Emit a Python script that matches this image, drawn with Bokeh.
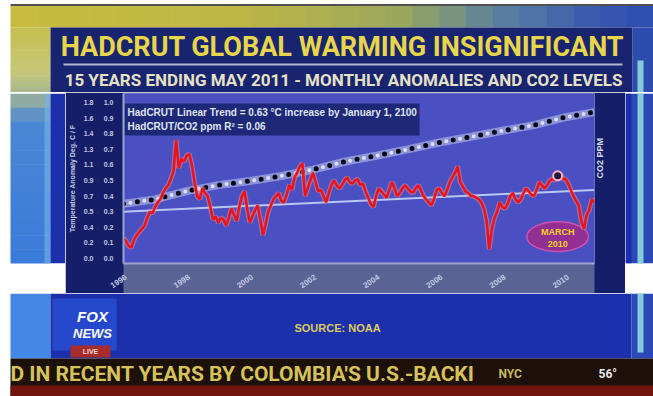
import numpy as np
from bokeh.plotting import figure
from bokeh.layouts import column, row
from bokeh.models import Range1d, LinearAxis, FixedTicker, BoxAnnotation, Label
from bokeh.core.properties import value
from bokeh.embed import file_html
from bokeh.resources import INLINE

# ---------------- data ----------------
# HadCRUT monthly anomalies, June 1996 .. May 2011 (deg C)
temps_1996 = [0.13, 0.11, 0.08, 0.07, 0.12, 0.15, 0.17]
temps_1997 = [0.19, 0.21, 0.26, 0.30, 0.29, 0.33, 0.36, 0.38, 0.42, 0.45, 0.47, 0.51]
temps_1998 = [0.56, 0.76, 0.58, 0.64, 0.62, 0.66, 0.67, 0.60, 0.49, 0.40, 0.38, 0.45]
temps_1999 = [0.42, 0.40, 0.33, 0.25, 0.27, 0.23, 0.26, 0.25, 0.21, 0.26, 0.32, 0.28]
temps_2000 = [0.24, 0.33, 0.40, 0.43, 0.32, 0.23, 0.27, 0.31, 0.34, 0.25, 0.15, 0.22]
temps_2001 = [0.30, 0.34, 0.38, 0.40, 0.42, 0.37, 0.36, 0.41, 0.47, 0.44, 0.52, 0.55]
temps_2002 = [0.59, 0.61, 0.40, 0.45, 0.50, 0.55, 0.49, 0.43, 0.44, 0.40, 0.36, 0.42]
temps_2003 = [0.47, 0.50, 0.47, 0.45, 0.47, 0.50, 0.52, 0.49, 0.48, 0.50, 0.51, 0.47]
temps_2004 = [0.48, 0.43, 0.39, 0.35, 0.33, 0.40, 0.45, 0.43, 0.41, 0.39, 0.44, 0.49]
temps_2005 = [0.45, 0.40, 0.42, 0.45, 0.47, 0.45, 0.43, 0.42, 0.45, 0.47, 0.44, 0.40]
temps_2006 = [0.38, 0.36, 0.34, 0.38, 0.44, 0.45, 0.42, 0.40, 0.44, 0.49, 0.52, 0.55]
temps_2007 = [0.59, 0.49, 0.46, 0.43, 0.42, 0.40, 0.40, 0.39, 0.38, 0.36, 0.32, 0.24]
temps_2008 = [0.06, 0.19, 0.26, 0.30, 0.36, 0.33, 0.32, 0.35, 0.40, 0.42, 0.38, 0.36]
temps_2009 = [0.38, 0.42, 0.45, 0.43, 0.41, 0.40, 0.44, 0.49, 0.47, 0.45, 0.47, 0.50]
temps_2010 = [0.51, 0.50, 0.53, 0.54, 0.51, 0.51, 0.48, 0.44, 0.40, 0.37, 0.34, 0.24]
temps_2011 = [0.19, 0.28, 0.31, 0.38, 0.36]

# CO2 (ppm), June of each year 1996..2010 and May 2011
co2_years = [1996, 1997, 1998, 1999, 2000, 2001, 2002, 2003, 2004, 2005,
             2006, 2007, 2008, 2009, 2010, 2011]
co2_months = [6, 6, 6, 6, 6, 6, 6, 6, 6, 6, 6, 6, 6, 6, 6, 5]
co2_ppm = [362.4, 363.8, 366.4, 368.3, 369.6, 371.2, 373.2, 375.7, 377.6, 379.6,
           381.8, 383.6, 385.5, 387.3, 389.8, 391.4]

# linear trend end values (deg C) as drawn
trend_values = [0.30, 0.44]

# axis ticks
c_ticks = [0.0, 0.1, 0.2, 0.3, 0.4, 0.5, 0.6, 0.7, 0.8, 0.9, 1.0]
c_labels = ["0.0", "0.1", "0.2", "0.3", "0.4", "0.5", "0.6", "0.7", "0.8", "0.9", "1.0"]
f_ticks = [0.0, 0.18, 0.36, 0.54, 0.72, 0.9, 1.08, 1.26, 1.44, 1.62, 1.8]
f_labels = ["0.0", "0.2", "0.4", "0.5", "0.7", "0.9", "1.1", "1.3", "1.4", "1.6", "1.8"]
year_ticks = [1996, 1998, 2000, 2002, 2004, 2006, 2008, 2010]

temps = (temps_1996 + temps_1997 + temps_1998 + temps_1999 + temps_2000 + temps_2001 +
         temps_2002 + temps_2003 + temps_2004 + temps_2005 + temps_2006 + temps_2007 +
         temps_2008 + temps_2009 + temps_2010 + temps_2011)
dates = [1996 + (5 + i) / 12 for i in range(len(temps))]
co2_dates = [y + (m - 1) / 12 for y, m in zip(co2_years, co2_months)]
trend_dates = [dates[0], dates[-1]]
march_2010 = 165  # index of March 2010 in the monthly series

LBL = "Liberation Sans"
HEAD = "Roboto"


# ---------------- helpers for the TV-frame pieces (page pixel coordinates) -------------
def deco(x0, y0, w, h):
    f = figure(width=w, height=h, x_range=Range1d(x0, x0 + w), y_range=Range1d(y0 + h, y0),
               min_border=0, x_axis_location=None, y_axis_location=None,
               outline_line_color=None, background_fill_color="white",
               border_fill_color="white", toolbar_location=None, output_backend="svg",
               title=None)
    f.grid.visible = False
    return f


def rect(f, l, r, t, b, color, alpha=1.0):
    f.quad(left=[l], right=[r], top=[t], bottom=[b], fill_color=color,
           fill_alpha=alpha, line_color=None)


def txt(f, x, y, s, size, color, font=LBL, align="left", style="bold"):
    f.text(x=[x], y=[y], text=[s], text_font=value(font), text_font_size=f"{size}px",
           text_font_style=style, text_color=color, text_align=align,
           text_baseline="middle")


def lerp_colors(stops, n):
    pos = np.array([s[0] for s in stops], float)
    cols = np.array([[int(s[1][i:i + 2], 16) for i in (1, 3, 5)] for s in stops], float)
    out = []
    for k in range(n):
        t = pos[0] + (pos[-1] - pos[0]) * (k + 0.5) / n
        out.append("#%02x%02x%02x" % tuple(int(np.interp(t, pos, cols[:, j])) for j in range(3)))
    return out


def hgrad(f, x0, x1, t, b, stops, n=24):
    step = (x1 - x0) / n
    for k, c in enumerate(lerp_colors(stops, n)):
        rect(f, x0 + k * step, x0 + (k + 1) * step + 0.6, t, b, c)


def vgrad(f, l, r, y0, y1, stops, n=24):
    step = (y1 - y0) / n
    for k, c in enumerate(lerp_colors(stops, n)):
        rect(f, l, r, y0 + k * step, y0 + (k + 1) * step + 0.6, c)


ROYAL = "#1c30ac"
NAVY_T = "#182470"
NAVY_C = "#151e68"

# ---------------- top piece: frame strip + title ----------------
top = deco(0, 0, 653, 92)
rect(top, 10, 653, 3.5, 5.5, "#505050")
hgrad(top, 10, 653, 5.5, 27, [(10, "#c9bd40"), (250, "#bdb646"), (400, "#9aa85e"),
                              (500, "#5a80a0"), (600, "#3858b0"), (653, "#2c4cb0")])
vgrad(top, 10, 50, 27, 92, [(27, "#c6bf50"), (70, "#c8c878"), (92, "#a8b890")], n=12)
rect(top, 632, 653, 27, 92, "#2c4cb0")
rect(top, 637, 643, 60, 92, "#86ccd8")
rect(top, 50, 632, 27, 92, NAVY_T)
rect(top, 63, 622, 63, 65, "#b4b8cc")
txt(top, 342, 46, "HADCRUT GLOBAL WARMING INSIGNIFICANT", 27, "#e8d64a", font=HEAD,
    align="center")
txt(top, 343, 79, "15 YEARS ENDING MAY 2011 - MONTHLY ANOMALIES AND CO2 LEVELS", 17,
    "#e6e2c6", font=HEAD, align="center")

# ---------------- middle-left piece ----------------
lft = deco(0, 92, 65, 201)
vgrad(lft, 10, 50, 92, 293, [(92, "#a8b890"), (125, "#4a88d4"), (293, "#3b7bda")], n=12)
rect(lft, 44, 50, 92, 293, "#78b4ea", 0.6)
rect(lft, 50, 65, 92, 293, ROYAL)

# ---------------- middle-right piece ----------------
rgt = deco(625, 92, 28, 201)
rect(rgt, 625, 653, 92, 293, "#2a48b8")
rect(rgt, 625, 631, 92, 293, ROYAL)
rect(rgt, 637, 643, 92, 293, "#86ccd8")

# ---------------- bottom piece ----------------
bot = deco(0, 293, 653, 103)
rect(bot, 10, 50, 293, 358, "#4488e6")
rect(bot, 50, 631, 293, 358, ROYAL)
rect(bot, 631, 653, 293, 358, "#2a48b8")
rect(bot, 637, 643, 293, 352, "#86ccd8")
rect(bot, 52, 116, 298, 350, "#2648cc")
rect(bot, 70, 110, 345, 357, "#a82c2c")
txt(bot, 92, 316, "FOX", 15, "#ffffff", style="bold italic", align="center")
txt(bot, 92, 333, "NEWS", 13, "#ffffff", style="bold italic", align="center")
txt(bot, 90, 351, "LIVE", 7, "#f4d8c8", align="center")
txt(bot, 337, 327, "SOURCE: NOAA", 11, "#dccb5c", align="center")
rect(bot, 10, 653, 358, 396, "#1c1008")
rect(bot, 10, 653, 385, 396, "#701410")
txt(bot, 10, 373, "D IN RECENT YEARS BY COLOMBIA'S U.S.-BACKI", 21, "#d6c25a", font=HEAD)
txt(bot, 498, 373, "NYC", 12, "#c8b860", font=HEAD)
txt(bot, 598, 373, "56°", 12, "#e8e8e8", font=HEAD)

# ---------------- chart ----------------
p = figure(width=560, height=201, output_backend="svg", toolbar_location=None, title=None,
           x_range=Range1d(dates[0], dates[-1]), y_range=Range1d(-0.032, 1.058),
           min_border_left=52, min_border_right=31, min_border_top=1,
           min_border_bottom=30, background_fill_color="#4a4fc2",
           border_fill_color=NAVY_C, outline_line_color=None)
p.grid.visible = False
p.extra_y_ranges = {"F": Range1d(-0.032 * 1.8, 1.058 * 1.8),
                    "co2": Range1d(343.5, 397.3)}

# legend text box (chart canvas pixels)
p.add_layout(BoxAnnotation(left=59, right=354, top=11, bottom=43, left_units="canvas",
                           right_units="canvas", top_units="canvas", bottom_units="canvas",
                           fill_color="#1a2470", fill_alpha=0.9, line_color=None,
                           level="underlay"))
for yy, s in [(19.5, "HadCRUT Linear Trend = 0.63 °C increase by January 1, 2100"),
              (34, "HadCRUT/CO2 ppm R² = 0.06")]:
    p.add_layout(Label(x=62, y=yy, x_units="canvas", y_units="canvas", text=s,
                       text_font=LBL, text_font_size="10px", text_font_style="bold",
                       text_color="#dfe3f2", text_baseline="middle"))

# CO2 dotted line (halo + dots)
p.line(co2_dates, co2_ppm, y_range_name="co2", line_width=8, line_color="#dde4f6",
       line_alpha=0.45)
p.line(co2_dates, co2_ppm, y_range_name="co2", line_width=4, line_color="#f0f4ff",
       line_dash="0 14", line_dash_offset=7, line_cap="round", line_alpha=0.8)
p.line(co2_dates, co2_ppm, y_range_name="co2", line_width=5, line_color="#05060c",
       line_dash="0 14", line_cap="round")
# linear trend
p.line(trend_dates, trend_values, line_width=2, line_color="#b8c8f2")
# March 2010 callout ellipse
p.ellipse(x=[dates[march_2010]], y=[0.14], width=1.95, height=0.19,
          fill_color="#a0288c", fill_alpha=0.85, line_color="#d050b0", line_width=1.5)
# temperature series
p.line(dates, temps, line_width=5, line_color="#ff8a90", line_alpha=0.5)
p.line(dates, temps, line_width=2.5, line_color="#e8141c")
p.scatter([dates[march_2010]], [temps[march_2010]], size=9, fill_color="#1a1a3a",
          line_color="#ffb0c0", line_width=2)
p.text(x=[dates[march_2010], dates[march_2010]], y=[0.168, 0.095], text=["MARCH", "2010"],
       text_font=value(LBL), text_font_style="bold", text_font_size="9px",
       text_color="#f4d420", text_align="center", text_baseline="middle")

# axes
ya = p.yaxis[0]
ya.ticker = FixedTicker(ticks=c_ticks)
ya.major_label_overrides = dict(zip(c_ticks, c_labels))
ya.major_label_text_font = LBL
ya.major_label_text_font_style = "bold"
ya.major_label_text_font_size = "7px"
ya.major_label_text_color = "#c4c9e2"
ya.major_tick_line_color = None
ya.minor_tick_line_color = None
ya.axis_line_color = "#9aa4d0"
ya.axis_line_width = 2
ya.major_label_standoff = 4

fa = LinearAxis(y_range_name="F", ticker=FixedTicker(ticks=f_ticks),
                major_label_overrides=dict(zip(f_ticks, f_labels)),
                axis_label="Temperature Anomaly Deg. C / F",
                axis_label_text_font=LBL, axis_label_text_font_style="bold",
                axis_label_text_font_size="7px", axis_label_text_color="#c4c9e2",
                axis_label_standoff=5,
                major_label_text_font=LBL, major_label_text_font_style="bold",
                major_label_text_font_size="7px", major_label_text_color="#c4c9e2",
                major_tick_line_color=None, minor_tick_line_color=None,
                axis_line_color=None, major_label_standoff=1)
p.add_layout(fa, "left")

xa = p.xaxis[0]
xt = [y + 0.5 for y in year_ticks]
xa.ticker = FixedTicker(ticks=xt)
xa.major_label_overrides = {t: str(y) for t, y in zip(xt, year_ticks)}
xa.major_label_orientation = 0.6
xa.major_label_text_font = LBL
xa.major_label_text_font_style = "bold"
xa.major_label_text_font_size = "8px"
xa.major_label_text_color = "#c0c8e4"
xa.major_tick_line_color = None
xa.minor_tick_line_color = None
xa.axis_line_color = "#9ea6cc"
xa.axis_line_width = 2
xa.major_label_standoff = 7
try:
    xa.background_fill_color = "#5a6494"
except AttributeError:
    pass

ra = LinearAxis(y_range_name="co2", ticker=FixedTicker(ticks=[]),
                axis_label="CO2 PPM", axis_label_text_font=LBL,
                axis_label_text_font_style="bold", axis_label_text_font_size="9px",
                axis_label_text_color="#d4d8ec", axis_label_standoff=5,
                axis_label_orientation=np.pi / 2, axis_label_text_align="center",
                major_tick_line_color=None, minor_tick_line_color=None,
                axis_line_color=None)
p.add_layout(ra, "right")

layout = column(top, row(lft, p, rgt), bot)
open("out.html", "w").write(file_html(layout, INLINE))
